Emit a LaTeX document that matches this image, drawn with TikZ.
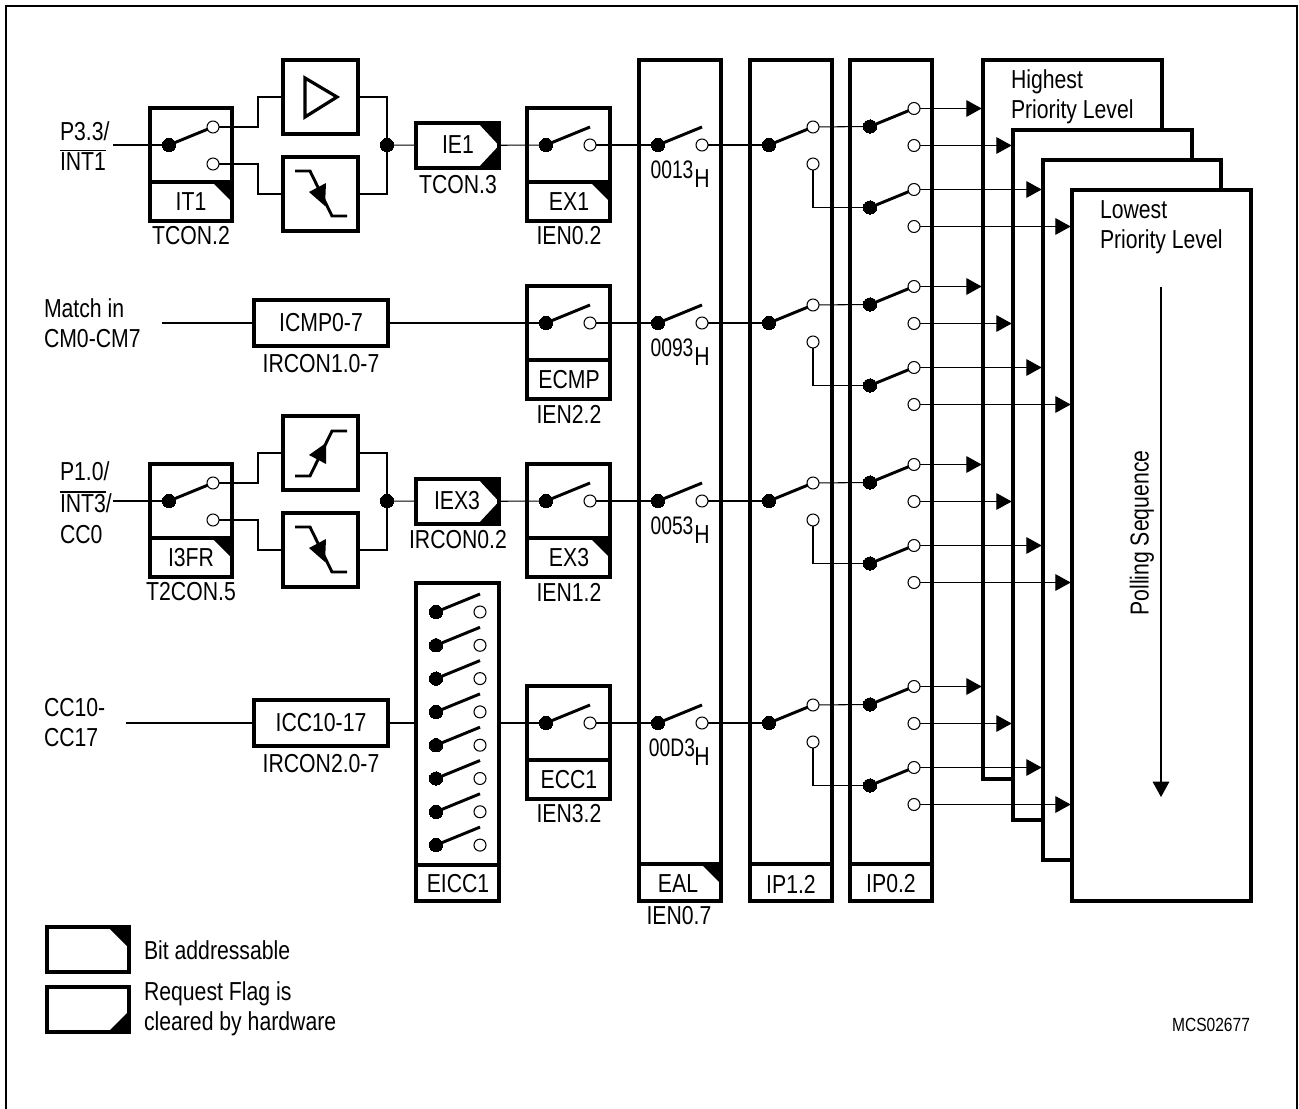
\documentclass[tikz,border=0pt]{standalone}
\usepackage{fontspec}
\setmainfont{Liberation Sans}[FakeStretch=0.816]
\newfontfamily\narrowdigits{Liberation Sans}[FakeStretch=0.76]
\usetikzlibrary{arrows.meta}
\newcommand\ovl[1]{\leavevmode\vbox{\hrule height 0.8pt \kern 1.2pt\hbox{#1}}}
\tikzset{
  heavy/.style={line width=2.4pt,line join=miter},
  wire/.style={line width=0.8pt},
  arm/.style={line width=2.2pt},
  hbox/.style={draw,heavy,fill=white,inner sep=0pt,outer sep=0pt},
  pivot/.style={circle,fill=black,draw=black,line width=0pt,inner sep=0pt,minimum size=10pt,outer sep=0pt},
  pin/.style={circle,fill=white,draw=black,line width=0.8pt,inner sep=0pt,minimum size=9pt,outer sep=0pt},
  lbl/.style={inner sep=0pt,outer sep=0pt,font=\fontsize{19.5}{22.5}\selectfont},
  lefttxt/.style={lbl,anchor=west,align=left},
  flow/.style={wire,-{Triangle[length=11.5pt,width=12.5pt]},shorten >=1pt},
}
\newcommand\boxat[5]{\node[hbox,minimum width={(#4-#2)*0.75pt},minimum height={(#5-#3)*0.75pt}] (#1) at ({(#2+#4)/2},{(#3+#5)/2}) {};}
\newcommand\swone[3]{\node[pivot] (#1) at (#2,#3) {};\node[pin] (#1c) at ({#2+44},#3) {};\coordinate (#1e) at ({#2+44},{#3-18});\draw[arm] (#1) -- (#1e);}
\newcommand\swtwo[3]{\node[pivot] (#1) at (#2,#3) {};\node[pin] (#1t) at ({#2+44},{#3-18}) {};\node[pin] (#1b) at ({#2+44},{#3+19}) {};\draw[arm] (#1) -- (#1t);}
% panel box with divider: name x1 y1 x2 y2 divider-y
\newcommand\panel[6]{\boxat{#1}{#2}{#3}{#4}{#5}\draw[heavy] (#2,#6) -- (#4,#6);}
\newcommand\cornertop[2]{\fill (#1,#2) -- ({#1-20},#2) -- (#1,{#2+20}) -- cycle;}
\newcommand\flag[3]{\boxat{#1}{416}{#2}{499}{#3}\fill (478,#2) -- (499,#2) -- (499,{(#2+#3)/2}) -- cycle;\fill (478,#3) -- (499,#3) -- (499,{(#2+#3)/2}) -- cycle;}
\newcommand\fall[1]{\draw[arm,line join=miter] (295,{#1+171}) -- (310,{#1+171}) -- (332,{#1+216}) -- (347,{#1+216});\fill (309,{#1+192}) -- (326,{#1+183}) -- (325,{#1+206}) -- cycle;}
\begin{document}
\begin{tikzpicture}[x=0.75pt,y=-0.75pt]
\useasboundingbox (0,0) rectangle (1299,1109);
% outer frame, open at the bottom
\draw[line width=2pt] (6,1109) -- (6,6) -- (1297,6) -- (1297,1109);

% ----- row 1 input stage
\panel{it1}{150}{108}{232}{221}{182}
\cornertop{232}{182}
\node[lbl] (it1t) at (191,202) {IT1};
\node[lbl] (it1l) at (191,236) {TCON.2};
\swtwo{s1}{169}{145}
\boxat{lvl}{283}{60}{358}{134}
\draw[heavy] (305,78) -- (305,117) -- (337,97) -- cycle;
\boxat{fa1}{283}{157}{358}{231}
\fall{0}
\node[pivot] (j1) at (387,145) {};
\flag{ie1}{123}{168}
\node[lbl] (ie1t) at (458,145) {IE1};
\node[lbl] (ie1l) at (458,185) {TCON.3};
\panel{ex1}{527}{108}{610}{221}{182}
\cornertop{610}{182}
\node[lbl] (ex1t) at (569,202) {EX1};
\node[lbl] (ex1l) at (569,236) {IEN0.2};
\swone{s2}{546}{145}
\node[lefttxt] (in1) at (60,146) {P3.3/\\\ovl{INT1}};
\coordinate (in1e) at (113,145);
\draw[wire] (in1e) -- (s1);
\draw[wire] (s1t) -- (258,127) -- (258,97) -- (lvl.west |- 0,97);
\draw[wire] (s1b) -- (258,164) -- (258,194) -- (fa1.west |- 0,194);
\draw[wire] (lvl.east |- 0,97) -- (387,97) -- (j1);
\draw[wire] (fa1.east |- 0,194) -- (387,194) -- (j1);
\draw[wire] (j1) -- (ie1);
\draw[wire] (ie1) -- (s2);

% ----- row 2 input stage
\node[lefttxt] (in2) at (44,323) {Match in\\CM0-CM7};
\boxat{icmp}{254}{300}{388}{346}
\node[lbl] (icmpt) at (321,323) {ICMP0-7};
\node[lbl] (icmpl) at (321,364) {IRCON1.0-7};
\coordinate (in2e) at (162,323);
\panel{ecmp}{527}{286}{610}{399}{360}
\node[lbl] (ecmpt) at (569,380) {ECMP};
\node[lbl] (ecmpl) at (569,414) {IEN2.2};
\swone{s3}{546}{323}
\draw[wire] (in2e) -- (icmp);
\draw[wire] (icmp) -- (s3);

% ----- row 3 input stage
\node[lefttxt] (in3) at (60,503) {P1.0/\\[1pt]\ovl{INT3}/\\[1pt]CC0};
\panel{i3fr}{150}{464}{232}{577}{538}
\cornertop{232}{538}
\node[lbl] (i3frt) at (191,558) {I3FR};
\node[lbl] (i3frl) at (191,592) {T2CON.5};
\swtwo{s4}{169}{501}
\boxat{ris}{283}{416}{358}{490}
\draw[arm,line join=miter] (295,476) -- (310,476) -- (332,431) -- (347,431);
\fill (309,455) -- (326,443) -- (326,464) -- cycle;
\boxat{fa3}{283}{513}{358}{587}
\fall{356}
\node[pivot] (j3) at (387,501) {};
\flag{iex3}{479}{524}
\node[lbl] (iex3t) at (457,501) {IEX3};
\node[lbl] (iex3l) at (458,540) {IRCON0.2};
\panel{ex3}{527}{464}{610}{577}{538}
\cornertop{610}{538}
\node[lbl] (ex3t) at (569,558) {EX3};
\node[lbl] (ex3l) at (569,592) {IEN1.2};
\swone{s5}{546}{501}
\coordinate (in3e) at (113,501);
\draw[wire] (in3e) -- (s4);
\draw[wire] (s4t) -- (258,483) -- (258,453) -- (ris.west |- 0,453);
\draw[wire] (s4b) -- (258,520) -- (258,550) -- (fa3.west |- 0,550);
\draw[wire] (ris.east |- 0,453) -- (387,453) -- (j3);
\draw[wire] (fa3.east |- 0,550) -- (387,550) -- (j3);
\draw[wire] (j3) -- (iex3);
\draw[wire] (iex3) -- (s5);

% ----- row 4 input stage
\node[lefttxt] (in4) at (44,723) {CC10-\\CC17};
\coordinate (in4e) at (126,723);
\boxat{icc}{254}{700}{388}{746}
\node[lbl] (icct) at (321,723) {ICC10-17};
\node[lbl] (iccl) at (321,764) {IRCON2.0-7};
\panel{eicc}{416}{583}{499}{901}{865}
\node[lbl] (eicct) at (458,884) {EICC1};
\foreach \k in {0,...,7} {
  \pgfmathsetmacro\yy{612+33.3*\k}
  \swone{m\k}{436}{\yy}
}
\panel{ecc}{527}{686}{610}{799}{760}
\node[lbl] (ecct) at (569,780) {ECC1};
\node[lbl] (eccl) at (569,814) {IEN3.2};
\swone{s6}{546}{723}
\draw[wire] (in4e) -- (icc);
\coordinate (eiccw) at (eicc.west |- 0,723);
\coordinate (eicce) at (eicc.east |- 0,723);
\draw[wire] (icc) -- (eiccw);
\draw[wire] (eicce) -- (s6);

% ----- three columns
\panel{eal}{639}{60}{721}{901}{864}
\cornertop{721}{864}
\node[lbl] (ealt) at (678,884) {EAL};
\node[lbl] (eall) at (679,916) {IEN0.7};
\panel{ip1}{750}{60}{832}{901}{864}
\node[lbl] (ip1t) at (791,884) {IP1.2};
\panel{ip0}{850}{60}{932}{901}{864}
\node[lbl] (ip0t) at (891,884) {IP0.2};

% ----- priority levels
\boxat{pa}{983}{60}{1162}{779}
\boxat{pb}{1013}{130}{1192}{820}
\boxat{pc}{1043}{160}{1221}{860}
\boxat{pd}{1072}{190}{1251}{901}
\node[lefttxt] (hi) at (1011,97) {Highest\\Priority Level};
\node[lefttxt] (lo) at (1100,227) {Lowest\\Priority Level};
\node[lbl,rotate=90] (poll) at (1142,533) {Polling Sequence};
\coordinate (pstart) at (1161,287);
\coordinate (pend) at (1161,797);
\draw[wire,-{Triangle[length=11.5pt,width=12.5pt]}] (pstart) -- (pend);

% ----- per-row switches
\foreach \rw/\off/\addr/\src in {1/0/0013/s2,2/178/0093/s3,3/356/0053/s5,4/578/00D3/s6} {
  \pgfmathsetmacro\ym{145+\off}
  \swone{a\rw}{658}{\ym}
  \swtwo{b\rw}{769}{\ym}
  \pgfmathsetmacro\yu{\ym-18.5}
  \pgfmathsetmacro\yl{\ym+62.5}
  \swtwo{u\rw}{870}{\yu}
  \swtwo{l\rw}{870}{\yl}
  \node[lbl,font=\fontsize{19}{22}\narrowdigits] (ad\rw) at (672,{\ym+25}) {\addr};
  \node[lbl] (adh\rw) at (702,{\ym+34}) {H};
  \draw[wire] (\src c) -- (a\rw);
  \draw[wire] (a\rw c) -- (b\rw);
  \draw[wire] (b\rw t) -- (u\rw);
  \draw[wire] (b\rw b) |- (l\rw);
  \draw[flow] (u\rw t) -- (u\rw t -| pa.west);
  \draw[flow] (u\rw b) -- (u\rw b -| pb.west);
  \draw[flow] (l\rw t) -- (l\rw t -| pc.west);
  \draw[flow] (l\rw b) -- (l\rw b -| pd.west);
}

% ----- legend
\boxat{lega}{47}{927}{129}{972}
\fill (108,927) -- (129,927) -- (129,948) -- cycle;
\node[lefttxt] (legat) at (144,950) {Bit addressable};
\boxat{legb}{47}{987}{129}{1032}
\fill (108,1032) -- (129,1032) -- (129,1011) -- cycle;
\node[lefttxt] (legbt) at (144,1009) {Request Flag is\\cleared by hardware};
\node[lbl,font=\fontsize{14.3}{16}\selectfont] (code) at (1211,1025) {MCS02677};
\end{tikzpicture}
\end{document}
